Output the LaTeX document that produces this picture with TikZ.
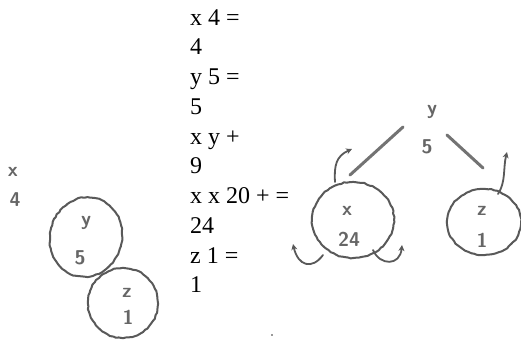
\documentclass[tikz,border=0pt]{standalone}
\usepackage{fontspec}
\setmainfont{Liberation Serif}
\usetikzlibrary{decorations.pathmorphing,arrows.meta,shapes.geometric}
\begin{document}
\begin{tikzpicture}[x=1pt,y=-1pt,
  eq/.style={anchor=base west, inner sep=0, font=\fontsize{24}{24}\selectfont},
  hand/.style={font=\sffamily\bfseries\fontsize{20}{20}\selectfont, text=black!60, inner sep=0},
  sketch/.style={draw=black!65, line width=2pt, decorate,
    decoration={random steps,segment length=3pt,amplitude=0.5pt}, line cap=round, line join=round},
  blob/.style={sketch, ellipse, inner sep=0},
  pen/.style={draw=black!65, line width=1.8pt, line cap=round},
  tipped/.style={pen, -{Stealth[length=6pt,width=6pt]}},
  stroke/.style={draw=black!55, line width=3pt, line cap=round},
]
\pgfmathsetseed{7}
\useasboundingbox[fill=white] (0,0) rectangle (521,341);

% printed equations
\node[eq] (e1) at (190,25) {x 4 =};
\node[eq] (e2) at (190,54.8) {4};
\node[eq] (e3) at (190,84.5) {y 5 =};
\node[eq] (e4) at (190,114.3) {5};
\node[eq] (e5) at (190,144) {x y +};
\node[eq] (e6) at (190,173.8) {9};
\node[eq] (e7) at (190,203.5) {x x 20 + =};
\node[eq] (e8) at (190,233.3) {24};
\node[eq] (e9) at (190,263) {z 1 =};
\node[eq] (e10) at (190,292.8) {1};

% left handwritten
\node[hand] (lx) at (13,172) {x};
\node[hand] (l4) at (15,200) {4};
\node[blob, minimum width=72pt, minimum height=80pt, rotate=-15] (c1) at (86,237) {};
\node[hand] (c1y) at (86,223) {y};
\node[hand] (c15) at (80,258) {5};
\node[blob, minimum width=70pt, minimum height=70pt] (c2) at (123,303) {};
\node[hand] (c2z) at (127,293) {z};
\node[hand] (c21) at (128,317) {1};

% right handwritten
\node[hand] (ry) at (432,112) {y};
\node[hand] (r5) at (427,147) {5};
\node[blob, minimum width=82pt, minimum height=76pt] (cA) at (353,220) {};
\node[hand] (cAx) at (347,211) {x};
\node[hand] (cA24) at (349,239) {24};
\node[blob, minimum width=74pt, minimum height=66pt] (cB) at (484,222) {};
\node[hand] (cBz) at (482,211) {z};
\node[hand] (cB1) at (482,240) {1};

\coordinate (s1a) at (403,127);
\coordinate (s1b) at (350,175);
\coordinate (s2a) at (447,135);
\coordinate (s2b) at (483,168);
\draw[stroke] (s1a) -- (s1b);
\draw[stroke] (s2a) -- (s2b);

\coordinate (aA) at (335,182);
\coordinate (aAt) at (352,149);
\draw[tipped] (aA) .. controls (334,166) and (336,156) .. (aAt);
\coordinate (aB) at (498,194);
\coordinate (aBt) at (507,152);
\draw[tipped] (aB) .. controls (506,182) and (503,168) .. (aBt);
\coordinate (bl) at (323,255);
\coordinate (blt) at (293,244);
\draw[tipped] (bl) .. controls (312,270) and (298,266) .. (blt);
\coordinate (br) at (373,250);
\coordinate (brt) at (402,245);
\draw[tipped] (br) .. controls (380,266) and (400,266) .. (brt);

\fill[black!80] (272,335) circle (0.9);
\end{tikzpicture}
\end{document}
